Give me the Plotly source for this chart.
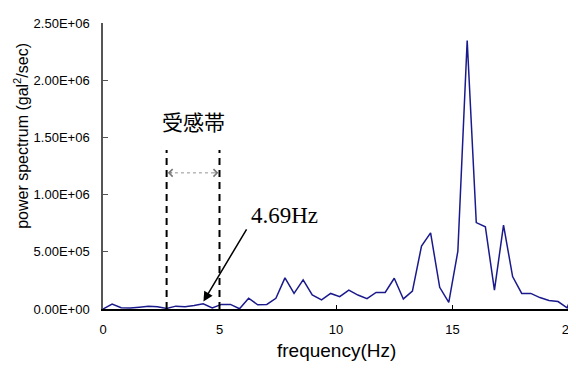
import plotly.graph_objects as go

freq_hz = [0, 0.39, 0.78, 1.17, 1.56, 1.95, 2.34, 2.73, 3.13, 3.52, 3.91, 4.30, 4.69,
           5.08, 5.47, 5.86, 6.25, 6.64, 7.03, 7.42, 7.81, 8.20, 8.59, 8.98, 9.38, 9.77,
           10.16, 10.55, 10.94, 11.33, 11.72, 12.11, 12.50, 12.89, 13.28, 13.67, 14.06,
           14.45, 14.84, 15.23, 15.63, 16.02, 16.41, 16.80, 17.19, 17.58, 17.97, 18.36,
           18.75, 19.14, 19.53, 19.92, 20.31]
power = [0, 43000, 11000, 8000, 15000, 23000, 20000, 5000, 25000, 20000, 30000, 45000,
         10000, 40000, 40000, 2000, 94000, 37000, 40000, 94000, 272000, 136000, 255000,
         123000, 80000, 136000, 108000, 165000, 122000, 91000, 145000, 145000, 269000,
         88000, 157000, 550000, 665000, 190000, 57000, 505000, 2347000, 755000, 719000,
         165000, 733000, 284000, 136000, 136000, 100000, 74000, 65000, 10000, 215000]

y_tickvals = [0, 500000, 1000000, 1500000, 2000000, 2500000]
y_ticktext = ["0.00E+00", "5.00E+05", "1.00E+06", "1.50E+06", "2.00E+06", "2.50E+06"]
x_tickvals = [0, 5, 10, 15, 20]

band_lo, band_hi = 2.73, 5.0
band_label = "受感帯"
peak_label = "4.69Hz"

fig = go.Figure()
fig.add_trace(go.Scatter(x=freq_hz, y=power, mode="lines",
                         line=dict(color="#1a1a8c", width=1.5), showlegend=False))

fig.update_layout(
    width=576, height=369,
    margin=dict(l=95, r=15, t=8, b=68),
    paper_bgcolor="white", plot_bgcolor="white",
    font=dict(family="Liberation Sans, Arial, sans-serif", color="black", size=13),
    xaxis=dict(range=[0, 20], tickvals=x_tickvals, ticks="inside", ticklen=4,
               tickcolor="black", showline=True, linecolor="black", linewidth=1.5,
               showgrid=False, zeroline=False, tickfont=dict(size=13), ticklabelstandoff=8,
               ticklabeloverflow="allow"),
    yaxis=dict(range=[0, 2500000], tickvals=y_tickvals, ticktext=y_ticktext,
               ticks="inside", ticklen=5, tickcolor="#555", showline=True,
               linecolor="#555", linewidth=1.5, showgrid=False, zeroline=False,
               tickfont=dict(size=13), ticklabelstandoff=9),
)

# right border of plot area
fig.add_shape(type="line", xref="paper", yref="paper", x0=1, x1=1, y0=0, y1=1,
              line=dict(color="#aaaaaa", width=2))

# dashed band lines
for xv in (band_lo, band_hi):
    fig.add_shape(type="line", xref="x", yref="y", x0=xv, x1=xv, y0=0, y1=1390000,
                  line=dict(color="black", width=2, dash="7px,5px"))

# dotted double arrow
arrow_y = 1190000
fig.add_shape(type="line", xref="x", yref="y", x0=band_lo + 0.1, x1=band_hi - 0.1,
              y0=arrow_y, y1=arrow_y, line=dict(color="#777", width=0.8, dash="dot"))
fig.add_annotation(x=band_lo + 0.05, y=arrow_y, xref="x", yref="y", ax=6, ay=0,
                   text="", showarrow=True, arrowhead=4, arrowsize=1.8,
                   arrowwidth=0.8, arrowcolor="#777")
fig.add_annotation(x=band_hi - 0.05, y=arrow_y, xref="x", yref="y", ax=-6, ay=0,
                   text="", showarrow=True, arrowhead=4, arrowsize=1.8,
                   arrowwidth=0.8, arrowcolor="#777")

# band label
fig.add_annotation(x=(band_lo + band_hi) / 2, y=1640000, xref="x", yref="y",
                   text=band_label, showarrow=False,
                   font=dict(family="Noto Sans CJK JP", size=21, color="black"))

# peak label & arrow
fig.add_annotation(x=7.81, y=820000, xref="x", yref="y", text=peak_label,
                   showarrow=False,
                   font=dict(family="Liberation Serif, Times New Roman, serif", size=23,
                             color="black"))
fig.add_annotation(x=4.31, y=65000, xref="x", yref="y", ax=6.2, ay=710000,
                   axref="x", ayref="y", text="", showarrow=True, arrowhead=2,
                   arrowsize=1.3, arrowwidth=1.5, arrowcolor="black")

# axis titles
fig.add_annotation(x=-0.175, y=0.607, xref="paper", yref="paper", textangle=-90,
                   xanchor="center", yanchor="middle",
                   text="power spectrum (gal<sup>2</sup>/sec)", showarrow=False,
                   font=dict(size=16))
fig.add_annotation(x=0.5, y=-0.145, xref="paper", yref="paper",
                   xanchor="center", yanchor="middle",
                   text="frequency(Hz)", showarrow=False, font=dict(size=19))

fig.write_html("out.html")
